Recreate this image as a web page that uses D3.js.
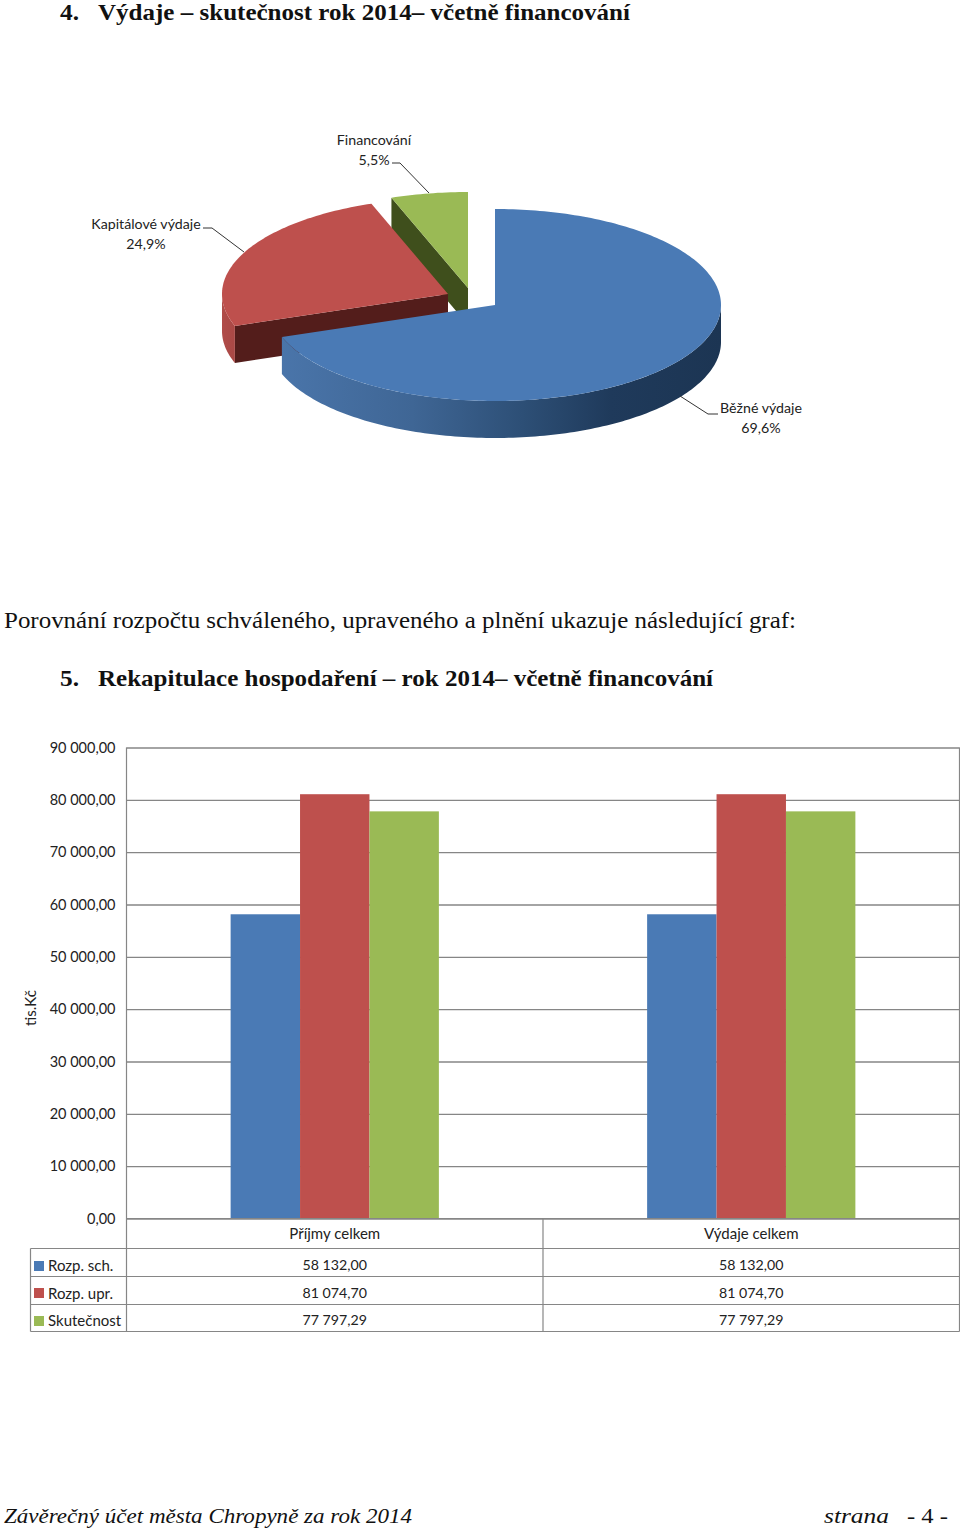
<!DOCTYPE html>
<html>
<head>
<meta charset="utf-8">
<script src="https://cdn.jsdelivr.net/npm/d3@7"></script>
<style>
html, body { margin: 0; padding: 0; background: #fff; }
svg { display: block; }
.serif { font-family: "Liberation Serif", serif; fill: #111; }
.lab { font-family: Lato, "Open Sans", sans-serif; font-size: 14.2px; fill: #222; }
.lab15 { font-family: Lato, "Open Sans", sans-serif; font-size: 15px; fill: #222; }
</style>
</head>
<body>
<div id="vis"></div>
<script>
const WIDTH = 960;
const HEIGHT = 1528;

// pie data
const pieNames = ["Běžné výdaje", "Kapitálové výdaje", "Financování"];
const pieShares = [69.6, 24.9, 5.5];
const pieLabels = ["69,6%", "24,9%", "5,5%"];

// bar data
const categories = ["Příjmy celkem", "Výdaje celkem"];
const seriesNames = ["Rozp. sch.", "Rozp. upr.", "Skutečnost"];
const rozpSch = [58132.00, 58132.00];
const rozpUpr = [81074.70, 81074.70];
const skutecnost = [77797.29, 77797.29];
const yTicks = [0, 10000, 20000, 30000, 40000, 50000, 60000, 70000, 80000, 90000];

const seriesValues = [rozpSch, rozpUpr, skutecnost];
const colors = ["#4a7ab5", "#be504d", "#9aba55"];

const SVG = d3.select("#vis").append("svg").attr("width", WIDTH).attr("height", HEIGHT);
const defs = SVG.append("defs");

// ---- texts of the page ----
function pageText(txt, x, y, size, len, bold, italic) {
    SVG.append("text").attr("class", "serif")
        .attr("x", x).attr("y", y)
        .attr("font-size", size)
        .attr("font-weight", bold ? "bold" : "normal")
        .attr("font-style", italic ? "italic" : "normal")
        .attr("textLength", len)
        .attr("lengthAdjust", "spacingAndGlyphs")
        .text(txt);
}
pageText("4.", 60, 20, 22.4, 19, true);
pageText("Výdaje – skutečnost rok 2014– včetně financování", 98, 20, 22.4, 532, true);
pageText("Porovnání rozpočtu schváleného, upraveného a plnění ukazuje následující graf:", 4, 628, 24, 792);
pageText("5.", 60, 686, 24, 19, true);
pageText("Rekapitulace hospodaření – rok 2014– včetně financování", 98, 686, 24, 615, true);
pageText("Závěrečný účet města Chropyně za rok 2014", 4, 1523, 22, 408, false, true);
pageText("strana", 824, 1523, 22, 65, false, true);
pageText("- 4 -", 907, 1523, 22, 41);

// ---- 3D pie ----
const RX = 226, RY = 96, DEPTH = 37;
// exploded centre of every slice
const pieCentres = [[495, 305], [448, 294], [468, 288]];
const sideColors = ["#2a4a70", "#531d1b", "#3f4f1c"];

const arcs = d3.pie().sort(null).value(d => d)(pieShares);
const line = d3.line();

function rim(c, a, dy) {
    return [c[0] + RX * Math.sin(a), c[1] - RY * Math.cos(a) + dy];
}
function rimPts(c, a0, a1, dy) {
    const n = Math.max(2, Math.ceil((a1 - a0) / 0.02));
    return d3.range(n + 1).map(i => rim(c, a0 + (a1 - a0) * i / n, dy));
}

// outer wall gradients
const blueGrad = defs.append("linearGradient").attr("id", "wall0")
    .attr("gradientUnits", "userSpaceOnUse").attr("x1", 280).attr("x2", 721).attr("y1", 0).attr("y2", 0);
[[0, "#4a75aa"], [0.3, "#3f6695"], [0.55, "#2d4f76"], [0.75, "#1f3a5b"], [1, "#1c3553"]].forEach(s =>
    blueGrad.append("stop").attr("offset", s[0]).attr("stop-color", s[1]));
const redGrad = defs.append("linearGradient").attr("id", "wall1")
    .attr("gradientUnits", "userSpaceOnUse").attr("x1", 222).attr("x2", 236).attr("y1", 0).attr("y2", 0);
[[0, "#b04c49"], [1, "#a84845"]].forEach(s =>
    redGrad.append("stop").attr("offset", s[0]).attr("stop-color", s[1]));

const pieG = SVG.append("g").attr("id", "pieG");
// back to front: green, red, blue
[2, 1, 0].forEach(i => {
    const c = pieCentres[i];
    const a0 = arcs[i].startAngle, a1 = arcs[i].endAngle;

    // cut faces, only the one turned towards the viewer shows
    if (i > 0) {
        const p = rim(c, a0, 0);
        const corners = [c, p, [p[0], p[1] + DEPTH], [c[0], c[1] + DEPTH]];
        pieG.append("path").attr("d", line(corners) + "Z").attr("fill", sideColors[i]);
    }

    // outer wall, lower half of the ellipse only
    const w0 = Math.max(a0, Math.PI / 2);
    const w1 = Math.min(a1, 3 * Math.PI / 2);
    if (w1 > w0) {
        const wall = rimPts(c, w0, w1, 0).concat(rimPts(c, w0, w1, DEPTH).reverse());
        pieG.append("path").attr("d", line(wall) + "Z").attr("fill", `url(#wall${i})`);
    }

    // top
    const top = [c].concat(rimPts(c, a0, a1, 0));
    pieG.append("path").attr("d", line(top) + "Z").attr("fill", colors[i]);
});

// pie labels and leader lines
const pieLabelX = [761, 146, 374];
const pieLabelY = [413, 229, 145];
const leaders = [
    [[680, 396], [708, 414], [718, 414]],
    [[203, 228], [212, 228], [244, 252]],
    [[392, 163], [400, 163], [429, 193]]
];
pieNames.forEach((name, i) => {
    const g = SVG.append("g").attr("text-anchor", "middle");
    g.append("text").attr("class", "lab").attr("x", pieLabelX[i]).attr("y", pieLabelY[i]).text(name);
    g.append("text").attr("class", "lab").attr("x", pieLabelX[i]).attr("y", pieLabelY[i] + 19.5).text(pieLabels[i]);
    SVG.append("path").attr("d", line(leaders[i])).attr("fill", "none").attr("stroke", "#333").attr("stroke-width", 1);
});

// ---- bar chart ----
const plotLeft = 126.5, plotRight = 959.5, plotTop = 747.5, plotBottom = 1218.5;
const rowLines = [1248.5, 1276.5, 1304.5, 1331.5];
const tableLeft = 30.5;
const GRID = "#868686";

const loc = d3.formatLocale({ decimal: ",", thousands: " ", grouping: [3], currency: ["", ""] });
const fmt = loc.format(",.2f");

const escala_x = d3.scaleBand().domain(categories).range([plotLeft, plotRight]);
const escala_serie = d3.scaleBand().domain(seriesNames)
    .range([escala_x.bandwidth() / 4, escala_x.bandwidth() * 3 / 4]);
const escala_y = d3.scaleLinear().domain([0, 90000]).range([plotBottom, plotTop]);

const ejeY = d3.axisLeft(escala_y)
    .tickValues(yTicks)
    .tickFormat(fmt)
    .tickSizeInner(-(plotRight - plotLeft))
    .tickSizeOuter(0)
    .tickPadding(11);

const ejeG = SVG.append("g").attr("id", "ejeY")
    .attr("transform", `translate(${plotLeft},0)`)
    .call(ejeY);
ejeG.select(".domain").remove();
ejeG.selectAll("line").attr("stroke", GRID).attr("stroke-width", 1.3);
ejeG.selectAll("text").attr("class", "lab").attr("font-family", null).attr("font-size", null)
    .style("font-size", "14.5px");

// bars
const barsG = SVG.append("g").attr("id", "barsG");
seriesNames.forEach((s, i) => {
    barsG.append("g").selectAll("rect")
        .data(seriesValues[i])
        .join("rect")
        .attr("x", (d, j) => escala_x(categories[j]) + escala_serie(s))
        .attr("y", d => escala_y(d))
        .attr("width", escala_serie.bandwidth())
        .attr("height", d => escala_y(0) - escala_y(d))
        .attr("fill", colors[i]);
});

// data table under the bars
const tableG = SVG.append("g").attr("id", "tableG");
function rule(x1, y1, x2, y2) {
    tableG.append("line").attr("x1", x1).attr("y1", y1).attr("x2", x2).attr("y2", y2)
        .attr("stroke", GRID).attr("stroke-width", 1.2);
}
rule(plotLeft, plotBottom, plotRight, plotBottom);
rowLines.forEach(y => rule(tableLeft, y, plotRight, y));
rule(tableLeft, rowLines[0], tableLeft, rowLines[3]);
rule(plotLeft, plotTop, plotLeft, rowLines[3]);
rule(plotRight, plotTop, plotRight, rowLines[3]);
rule(escala_x(categories[1]), plotBottom, escala_x(categories[1]), rowLines[3]);

const bandMid = d => escala_x(d) + escala_x.bandwidth() / 2;
categories.forEach(c => {
    tableG.append("text").attr("class", "lab15").attr("text-anchor", "middle")
        .attr("x", bandMid(c)).attr("y", 1238.5).text(c);
});

const rowTextY = [1270, 1298, 1325];
const keyY = [1261, 1288, 1316];
seriesNames.forEach((s, i) => {
    tableG.append("rect").attr("x", 34).attr("y", keyY[i]).attr("width", 10).attr("height", 10).attr("fill", colors[i]);
    tableG.append("text").attr("class", "lab15").attr("x", 48).attr("y", rowTextY[i] + 1).text(s);
    categories.forEach((c, j) => {
        tableG.append("text").attr("class", "lab").attr("text-anchor", "middle")
            .attr("x", bandMid(c)).attr("y", rowTextY[i]).text(fmt(seriesValues[i][j]));
    });
});

// axis title
SVG.append("text").attr("class", "lab15").attr("text-anchor", "middle")
    .attr("transform", "translate(36,1008) rotate(-90)").text("tis.Kč");
</script>
</body>
</html>
